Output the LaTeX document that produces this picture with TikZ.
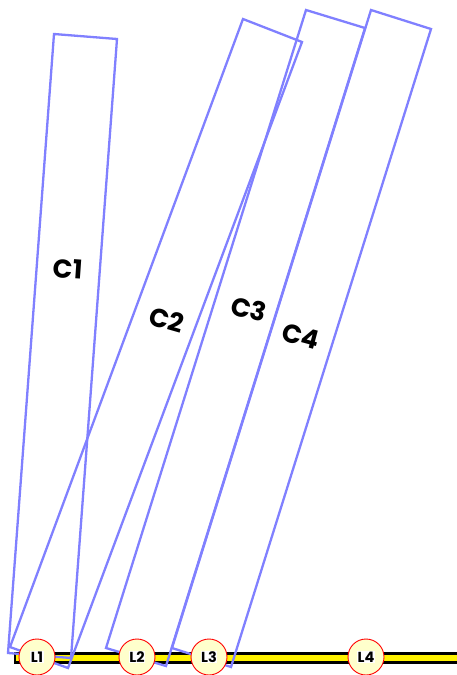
\documentclass[tikz,border=0pt]{standalone}
\usepackage{fontspec}
\setmainfont{Poppins}
\definecolor{rectblue}{RGB}{128,128,255}
\definecolor{lfill}{RGB}{255,255,204}
\begin{document}
\begin{tikzpicture}[x=1pt,y=-1pt,
  colbox/.style={draw=rectblue,line width=2.3pt,line join=miter},
  collabel/.style={font=\fontsize{26}{26}\selectfont\bfseries,inner sep=0pt},
  lcircle/.style={circle,draw=red,fill=lfill,line width=0.9pt,minimum size=36pt,inner sep=0pt},
  ltext/.style={font=\fontsize{14.5}{14.5}\selectfont\bfseries,fill=white,inner sep=0.6pt}]
\useasboundingbox (0,0) rectangle (457,675);
% track
\coordinate (tA) at (14,658);
\coordinate (tB) at (460,658);
\draw[line width=12.5pt,black] (tA) -- (tB);
\draw[line width=6pt,yellow] ([xshift=2pt]tA) -- (tB);
% columns
\coordinate (a1) at (54,34);  \coordinate (b1) at (117,39);
\coordinate (c1) at (71,658); \coordinate (d1) at (8,653);
\coordinate (a2) at (243,19); \coordinate (b2) at (302,42);
\coordinate (c2) at (68,668); \coordinate (d2) at (10,647);
\coordinate (a3) at (306,10); \coordinate (b3) at (365,28);
\coordinate (c3) at (166,666); \coordinate (d3) at (106,648);
\coordinate (a4) at (371,10); \coordinate (b4) at (431,29);
\coordinate (c4) at (231,667); \coordinate (d4) at (172,648);
\draw[colbox] (a1) -- (b1) -- (c1) -- (d1) -- cycle;
\draw[colbox] (a2) -- (b2) -- (c2) -- (d2) -- cycle;
\draw[colbox] (a3) -- (b3) -- (c3) -- (d3) -- cycle;
\draw[colbox] (a4) -- (b4) -- (c4) -- (d4) -- cycle;
\node[collabel,rotate=-4] (n1) at (68,269) {C1};
\node[collabel,rotate=-16] (n2) at (167,320) {C2};
\node[collabel,rotate=-14] (n3) at (249,309) {C3};
\node[collabel,rotate=-15] (n4) at (301,336) {C4};
% stations
\node[lcircle] (L1) at (37,657) {};
\node[lcircle] (L2) at (137,657) {};
\node[lcircle] (L3) at (209,657) {};
\node[lcircle] (L4) at (366,657) {};
\node[ltext] (t1) at (L1) {L1};
\node[ltext] (t2) at (L2) {L2};
\node[ltext] (t3) at (L3) {L3};
\node[ltext] (t4) at (L4) {L4};
\end{tikzpicture}
\end{document}
